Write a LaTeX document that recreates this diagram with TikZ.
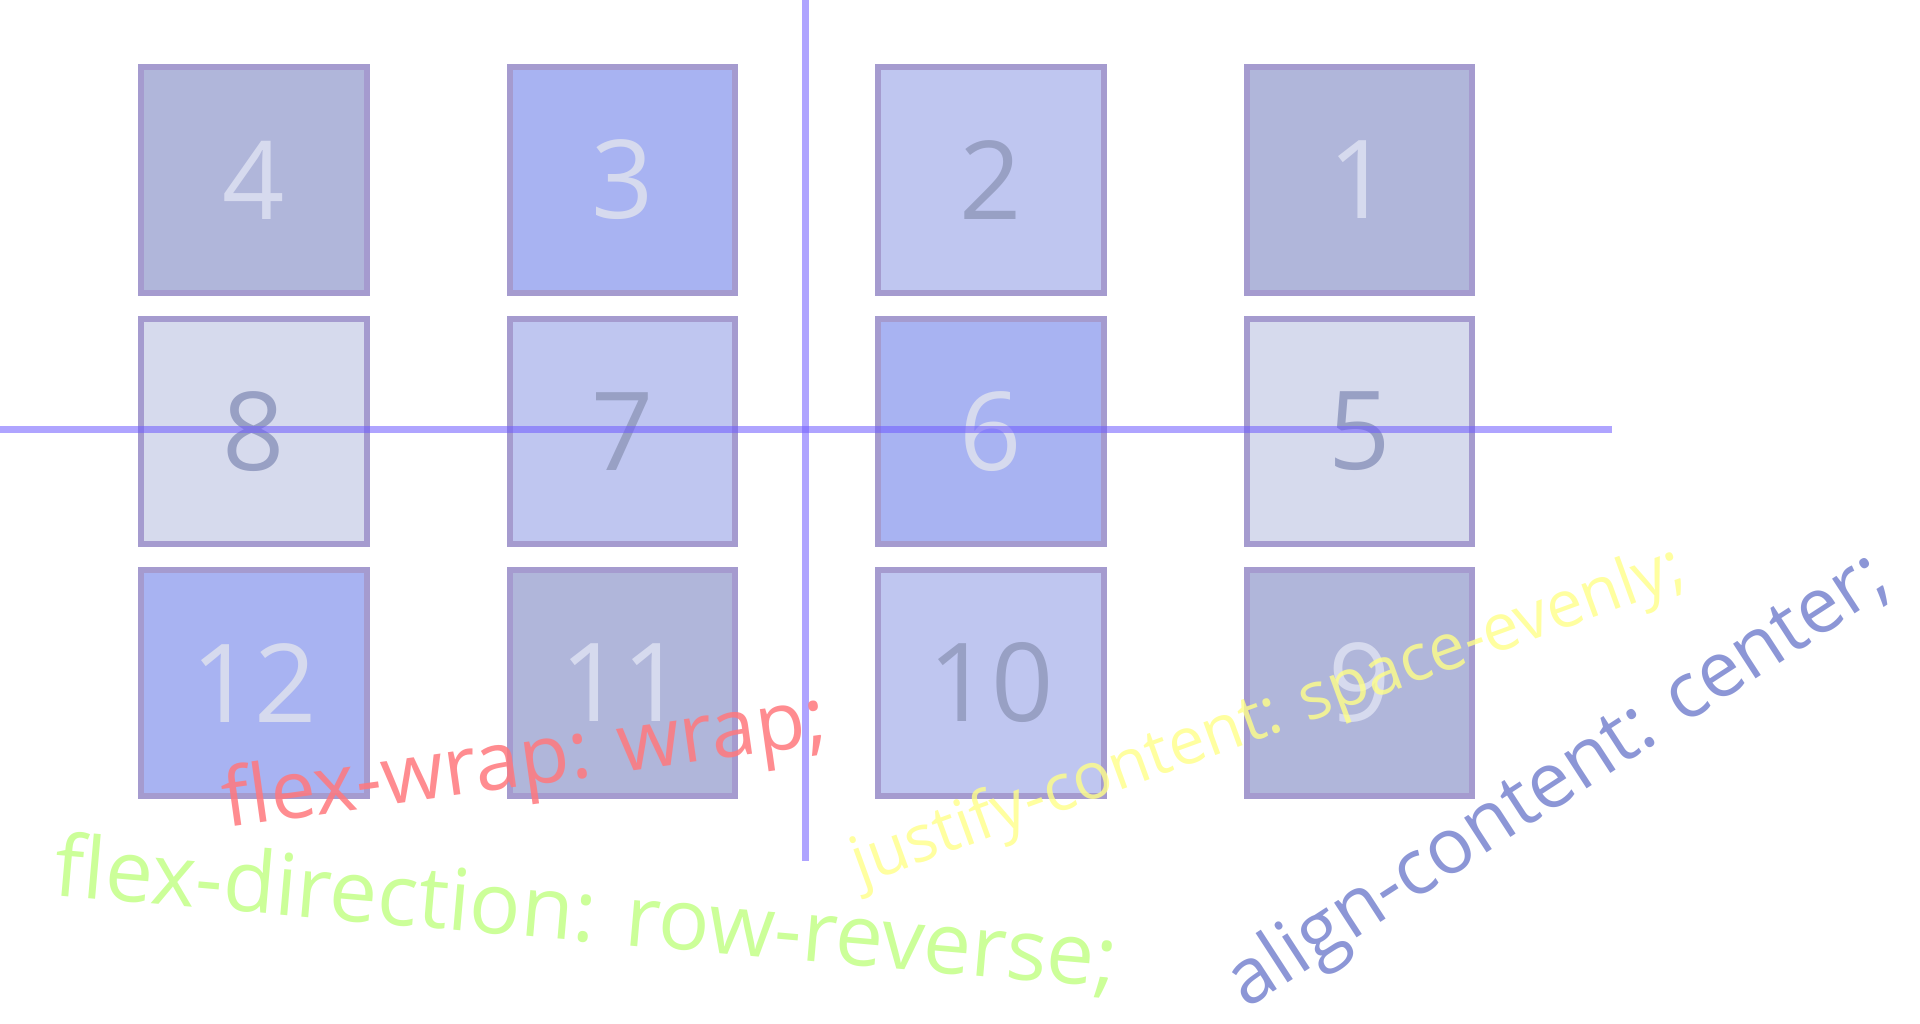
\documentclass[tikz,border=0pt]{standalone}
\usepackage{fontspec}
\setmainfont{Open Sans}
\definecolor{boxline}{RGB}{165,155,207}
\definecolor{fillA}{RGB}{176,182,218}
\definecolor{fillB}{RGB}{168,179,242}
\definecolor{fillC}{RGB}{191,198,240}
\definecolor{fillD}{RGB}{214,218,237}
\definecolor{numlight}{RGB}{214,218,238}
\definecolor{numdark}{RGB}{152,160,196}
\definecolor{guide}{RGB}{110,90,255}
\definecolor{wrapred}{RGB}{255,120,125}
\definecolor{dirgreen}{RGB}{204,255,153}
\definecolor{justyellow}{RGB}{255,255,136}
\definecolor{alignblue}{RGB}{140,150,214}

\begin{document}
\begin{tikzpicture}[x=0.01cm, y=-0.01cm,
    flexbox/.style={draw=boxline, line width=0.06cm, minimum size=2.25cm, inner sep=0pt, font=\fontsize{31}{31}\selectfont},
    guideline/.style={guide, opacity=0.55, line width=0.07cm},
    propnote/.style={anchor=base west, inner sep=0pt, font=\fontsize{24}{24}\selectfont}]
            \useasboundingbox (0,0) rectangle (1920,1024);
            \foreach \n/\c/\r/\f/\t in {1/4/1/fillA/numlight, 2/3/1/fillC/numdark, 3/2/1/fillB/numlight, 4/1/1/fillA/numlight, 5/4/2/fillD/numdark, 6/3/2/fillB/numlight, 7/2/2/fillC/numdark, 8/1/2/fillD/numdark, 9/4/3/fillA/numlight, 10/3/3/fillC/numdark, 11/2/3/fillA/numlight, 12/1/3/fillB/numlight} {
                \node[flexbox, fill=\f, text=\t] (item\n) at ({254+368.5*(\c-1)},{180+251.5*(\r-1)}) {\n};
            }
            
            \draw[guideline] (805,0)--(805,861);
            \draw[guideline] (0,429)--(1612,429);
            
            \node[propnote, text=wrapred, opacity=0.85, rotate=8, font=\fontsize{23}{23}\selectfont] (wrapnote) at (226,828) {flex-wrap: wrap;};
            \node[propnote, text=dirgreen, rotate=-5, font=\fontsize{24.3}{24.3}\selectfont] (dirnote) at (52,895) {flex-direction: row-reverse;};
            \node[propnote, text=justyellow, opacity=0.8, rotate=20, font=\fontsize{18.5}{18.5}\selectfont] (justnote) at (860,885) {justify-content: space-evenly;};
            \node[propnote, text=alignblue, rotate=33, font=\fontsize{22}{22}\selectfont] (alignnote) at (1246,1010) {align-content: center;};
        \end{tikzpicture}
\end{document}
